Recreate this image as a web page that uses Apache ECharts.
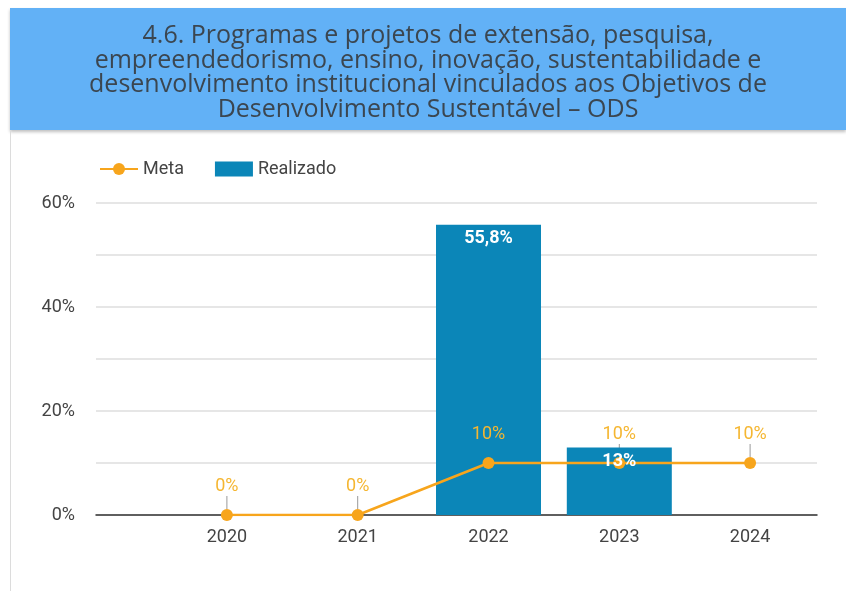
<!DOCTYPE html>
<html>
<head>
<meta charset="utf-8">
<script src="https://cdn.jsdelivr.net/npm/echarts@6/dist/echarts.min.js"></script>
<style>
  html, body { margin: 0; padding: 0; background: #fff; }
  #chart { width: 846px; height: 591px; }
</style>
</head>
<body>
<div id="chart"></div>
<script>
// dados
const years = ['2020', '2021', '2022', '2023', '2024'];
const meta = [0, 0, 10, 10, 10];
const realizado = [null, null, 55.8, 13, null];
const yMin = 0;
const yMax = 60;
const yStep = 10;

const titleText = '4.6. Programas e projetos de extensão, pesquisa,\n' +
    'empreendedorismo, ensino, inovação, sustentabilidade e\n' +
    'desenvolvimento institucional vinculados aos Objetivos de\n' +
    'Desenvolvimento Sustentável – ODS';

const pct = v => String(v).replace('.', ',') + '%';

const myChart = echarts.init(document.getElementById('chart'));

const option = {
    animation: false,
    textStyle: { fontFamily: 'Roboto' },
    graphic: [
        {
            type: 'rect',
            shape: { x: 10, y: 8, width: 836, height: 122 },
            style: {
                fill: '#62b1f6',
                shadowBlur: 3,
                shadowOffsetY: 2,
                shadowColor: 'rgba(0,0,0,0.25)'
            },
            z: -1
        },
        {
            type: 'line',
            shape: { x1: 10.5, y1: 130, x2: 10.5, y2: 591 },
            style: { stroke: '#dcdcdc', lineWidth: 1 }
        }
    ],
    title: {
        text: titleText,
        left: 428,
        top: 24,
        padding: 0,
        textAlign: 'center',
        textStyle: {
            fontFamily: 'Open Sans',
            fontSize: 25,
            fontWeight: 'normal',
            color: '#3b4650',
            lineHeight: 24.5
        }
    },
    legend: {
        left: 94,
        top: 155,
        itemWidth: 38,
        itemHeight: 15,
        itemGap: 31,
        textStyle: { fontSize: 18, color: '#444', fontFamily: 'Roboto' },
        data: [{ name: 'Meta' }, { name: 'Realizado', icon: 'rect' }]
    },
    grid: [
        { left: 96, right: 29, top: 203, bottom: 76 },
        { left: 161.5, right: 30.5, top: 203, bottom: 76 }
    ],
    xAxis: [
        {
            gridIndex: 0,
            type: 'category',
            data: years,
            axisLine: { lineStyle: { color: '#333', width: 1.5 } },
            axisTick: { show: false },
            axisLabel: { show: false }
        },
        {
            gridIndex: 1,
            type: 'category',
            data: years,
            axisLine: { show: false },
            axisTick: { show: false },
            axisLabel: { fontSize: 18, color: '#444', margin: 13 }
        }
    ],
    yAxis: [
        {
            gridIndex: 0,
            type: 'value',
            min: yMin,
            max: yMax,
            interval: yStep,
            axisLine: { show: false },
            axisTick: { show: false },
            axisLabel: {
                fontSize: 18,
                color: '#444',
                margin: 21,
                formatter: v => (v % 20 === 0 ? v + '%' : '')
            },
            splitLine: { lineStyle: { color: '#dedede', width: 1.5 } }
        },
        {
            gridIndex: 1,
            type: 'value',
            min: yMin,
            max: yMax,
            interval: yStep,
            show: false,
            splitLine: { show: false }
        }
    ],
    series: [
        {
            name: 'Realizado',
            type: 'bar',
            xAxisIndex: 1,
            yAxisIndex: 1,
            data: realizado,
            barWidth: 105,
            itemStyle: { color: '#0b86b8' },
            z: 2
        },
        {
            // rótulos das barras, desenhados por cima da linha
            name: 'realizadoRotulo',
            type: 'bar',
            xAxisIndex: 1,
            yAxisIndex: 1,
            data: realizado,
            barWidth: 105,
            barGap: '-100%',
            itemStyle: { color: 'rgba(0,0,0,0)' },
            label: {
                show: true,
                position: 'insideTop',
                distance: 5,
                color: '#fff',
                fontSize: 18,
                fontWeight: 'bold',
                formatter: p => pct(p.value)
            },
            silent: true,
            z: 5
        },
        {
            // hastes cinzas entre o ponto e o rótulo da meta
            name: 'metaHaste',
            type: 'custom',
            xAxisIndex: 1,
            yAxisIndex: 1,
            data: meta.map((v, i) => [i, v]),
            renderItem: (params, api) => {
                const p = api.coord([api.value(0), api.value(1)]);
                return {
                    type: 'line',
                    shape: { x1: p[0], y1: p[1] - 6, x2: p[0], y2: p[1] - 19 },
                    style: { stroke: '#999', lineWidth: 1 }
                };
            },
            silent: true,
            z: 1
        },
        {
            name: 'Meta',
            type: 'line',
            xAxisIndex: 1,
            yAxisIndex: 1,
            data: meta,
            color: '#f7a51c',
            symbol: 'circle',
            symbolSize: 12,
            lineStyle: { width: 2.5, color: '#f7a51c' },
            itemStyle: { color: '#f7a51c' },
            label: {
                show: true,
                position: 'top',
                distance: 14,
                color: '#f5b631',
                fontSize: 18,
                formatter: p => pct(p.value)
            },
            z: 3
        }
    ]
};

myChart.setOption(option);
window.onresize = myChart.resize;
</script>
</body>
</html>
